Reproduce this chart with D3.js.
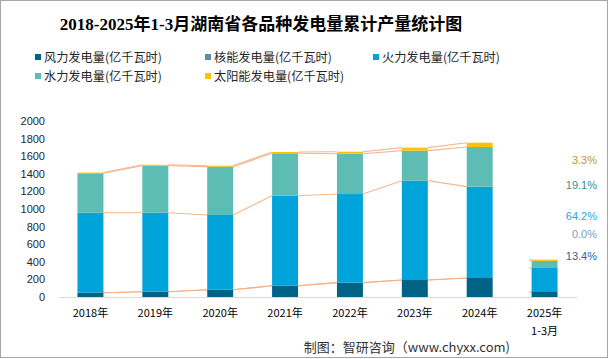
<!DOCTYPE html>
<html><head><meta charset="utf-8">
<script src="https://cdn.jsdelivr.net/npm/d3@7"></script>
<style>body{margin:0;background:#fff}svg{display:block}</style>
</head><body><svg id="c" width="609" height="359"></svg>
<script>
const categories = ["2018年","2019年","2020年","2021年","2022年","2023年","2024年","2025年\n1-3月"];
const wind    = [49, 60, 83, 128, 163, 193, 216, 57];
const nuclear = [0, 0, 0, 0, 0, 0, 0, 0];
const thermal = [909, 898, 849, 1023, 1007, 1129, 1038, 273];
const hydro   = [448, 534, 549, 482, 458, 341, 451, 81];
const solar   = [8, 11, 11, 15, 23, 34, 48, 14];
const seriesNames = ["风力发电量(亿千瓦时)","核能发电量(亿千瓦时)","火力发电量(亿千瓦时)","水力发电量(亿千瓦时)","太阳能发电量(亿千瓦时)"];
const yTicks = [0,200,400,600,800,1000,1200,1400,1600,1800,2000];
const shareLabels = ["3.3%","19.1%","64.2%","0.0%","13.4%"]; // solar, hydro, thermal, nuclear, wind
const titleText = "2018-2025年1-3月湖南省各品种发电量累计产量统计图";
const sourceText = "制图：智研咨询（www.chyxx.com)";

const colors = ["#006386","#5B8FA8","#00A3DA","#5DBDB5","#FFC000"];
const shareColors = ["#C8961E","#3A9088","#2AA8E0","#7F9DB3","#1F6A9A"];
const shareY = [160,185,216,234,256];

const svg = d3.select("#c");
svg.append("rect").attr("x",0.5).attr("y",0.5).attr("width",607).attr("height",357)
  .attr("fill","#fff").attr("stroke","#A6A6A6");

svg.append("text").attr("x",261).attr("y",30).attr("text-anchor","middle")
  .attr("font-family","'Liberation Serif','Noto Sans CJK SC',serif").attr("font-weight","bold")
  .attr("font-size",17).attr("fill","#000").text(titleText);

// legend
const legPos = [[35,57],[205,57],[373,57],[35,76],[205,76]];
seriesNames.forEach((n,i)=>{
  const g = svg.append("g").attr("transform",`translate(${legPos[i][0]},${legPos[i][1]})`);
  g.append("rect").attr("x",0).attr("y",-3).attr("width",6).attr("height",6).attr("fill",colors[i]);
  g.append("text").attr("x",9).attr("y",4.5).attr("font-family","'Noto Sans CJK SC',sans-serif")
    .attr("font-size",12.2).attr("fill","#262626").text(n);
});

const x = d3.scaleBand().domain(categories).range([58,577]).paddingInner(0.6).paddingOuter(0.3);
const y = d3.scaleLinear().domain([0,2000]).range([297,121]);

// y axis
const ya = d3.axisLeft(y).tickValues(yTicks).tickFormat(d3.format("d")).tickSize(0).tickPadding(0);
const yg = svg.append("g").attr("transform","translate(45,0)").call(ya);
yg.select(".domain").remove();
yg.selectAll("text").attr("font-family","'Liberation Sans',Arial,sans-serif").attr("font-size",11).attr("fill","#262626");

// stacks
const table = categories.map((c,i)=>({cat:c, s0:wind[i], s1:nuclear[i], s2:thermal[i], s3:hydro[i], s4:solar[i]}));
const stack = d3.stack().keys(["s0","s1","s2","s3","s4"])(table);

// series lines
const lineG = svg.append("g");
stack.forEach(layer=>{
  for(let i=0;i<categories.length-2;i++){
    lineG.append("line")
      .attr("x1",x(categories[i])+x.bandwidth()).attr("y1",y(layer[i][1]))
      .attr("x2",x(categories[i+1])).attr("y2",y(layer[i+1][1]))
      .attr("stroke","#F4B183").attr("stroke-width",1.1).attr("opacity",0.9);
  }
  const k = categories.length-1;
  lineG.append("line").attr("x1",x(categories[k])-2).attr("x2",x(categories[k]))
    .attr("y1",y(layer[k][1])).attr("y2",y(layer[k][1]))
    .attr("stroke","#F4B183").attr("stroke-width",1.1);
});

stack.forEach((layer,li)=>{
  svg.append("g").selectAll("rect").data(layer).join("rect")
    .attr("x",d=>x(d.data.cat)).attr("width",x.bandwidth())
    .attr("y",d=>y(d[1])).attr("height",d=>y(d[0])-y(d[1]))
    .attr("fill",colors[li]);
});

// x axis
const xa = d3.axisBottom(x).tickSize(0).tickPadding(0);
const xg = svg.append("g").attr("transform","translate(0,297)").call(xa);
xg.select(".domain").attr("stroke","#D9D9D9").attr("stroke-width",1);
xg.selectAll("text").each(function(d){
  const t = d3.select(this); t.text(null);
  t.attr("font-family","'Noto Sans CJK SC',sans-serif").attr("font-size",11).attr("fill","#000").attr("dy",null).attr("y",0);
  d.split("\n").forEach((s,j)=>t.append("tspan").attr("x",0).attr("y",20+j*18).text(s));
});

// share labels
shareLabels.forEach((s,i)=>{
  svg.append("text").attr("x",597).attr("y",shareY[i]+4).attr("text-anchor","end")
    .attr("font-family","'Liberation Sans',Arial,sans-serif").attr("font-size",11)
    .attr("fill",shareColors[i]).text(s);
});

svg.append("text").attr("x",510).attr("y",352).attr("text-anchor","end")
  .attr("font-family","'Noto Sans CJK SC',sans-serif").attr("font-size",13).attr("fill","#333").text(sourceText);
</script></body></html>
